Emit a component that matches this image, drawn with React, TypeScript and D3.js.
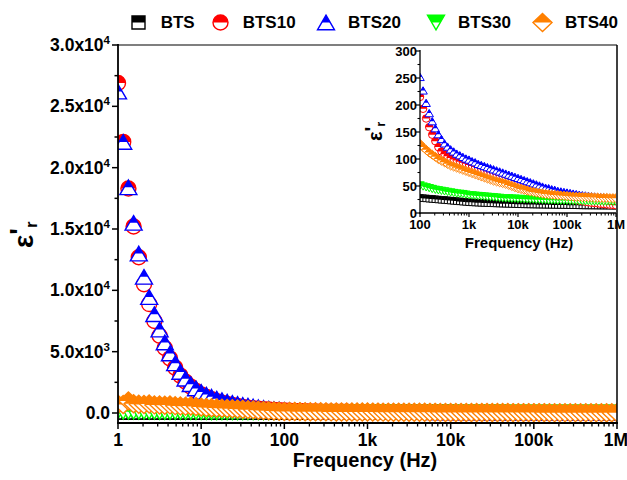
import React from "react";
import * as d3 from "d3";

// Frequency grid (Hz)
const FREQ = [
  1, 1.155, 1.334, 1.54, 1.778, 2.054, 2.371, 2.738, 3.162, 3.652, 4.217, 4.87, 5.623, 6.494, 7.499, 8.66,
  10, 11.55, 13.34, 15.4, 17.78, 20.54, 23.71, 27.38, 31.62, 36.52, 42.17, 48.7, 56.23, 64.94, 74.99, 86.6,
  100, 115.5, 133.4, 154, 177.8, 205.4, 237.1, 273.8, 316.2, 365.2, 421.7, 487, 562.3, 649.4, 749.9, 866,
  1000, 1155, 1334, 1540, 1778, 2054, 2371, 2738, 3162, 3652, 4217, 4870, 5623, 6494, 7499, 8660,
  10000, 11550, 13340, 15400, 17780, 20540, 23710, 27380, 31620, 36520, 42170, 48700, 56230, 64940, 74990, 86600,
  100000, 115500, 133400, 154000, 177800, 205400, 237100, 273800, 316200, 365200, 421700, 487000, 562300, 649400, 749900, 866000,
  1000000,
];

const BTS = [
  45, 44, 43, 42, 41, 40, 39.5, 39, 38.5, 38, 37.5, 37, 36.5, 36, 35.5, 35,
  34.5, 34, 33.5, 33, 32.5, 32, 31.5, 31, 30.5, 30, 29.8, 29.5, 29.2, 29, 28.7, 28.4,
  28, 27.5, 27, 26.5, 26, 25.5, 25, 24.5, 24, 23.5, 23, 22.5, 22, 21.5, 21, 20.5,
  20, 19.7, 19.4, 19.1, 18.8, 18.5, 18.3, 18.1, 17.9, 17.7, 17.5, 17.3, 17.1, 16.9, 16.7, 16.5,
  16.3, 16.1, 16, 15.9, 15.8, 15.7, 15.6, 15.5, 15.4, 15.3, 15.2, 15.1, 15, 14.9, 14.8, 14.7,
  14.6, 14.5, 14.4, 14.3, 14.2, 14.1, 14, 14, 13.9, 13.9, 13.8, 13.8, 13.7, 13.7, 13.6, 13.6,
  13.5,
];

const BTS10 = [
  26900, 22100, 18300, 15200, 12700, 10500, 8880, 7500, 6300, 5300, 4450, 3700, 3050, 2550, 2150, 1800,
  1520, 1300, 1120, 970, 850, 740, 650, 570, 500, 440, 390, 345, 310, 280, 255, 235,
  215, 193, 175, 159, 145, 133, 122, 114, 109, 105, 102, 99, 97, 95, 93, 91,
  89, 87, 85, 83, 81, 79, 77, 75, 73, 71, 69, 67, 65, 63, 61, 59,
  57, 55, 53, 51, 49, 47, 45, 43, 41, 39, 37, 35, 33, 31.5, 30, 28.5,
  27, 26, 25, 24, 23, 22, 21, 20, 19, 18.5, 18, 17, 16.5, 16, 15.5, 15,
  14.5,
];

const BTS20 = [
  26200, 22100, 18400, 15500, 13000, 11100, 9450, 8050, 6800, 5750, 4850, 4050, 3350, 2800, 2350, 2000,
  1720, 1500, 1320, 1170, 1040, 930, 830, 740, 660, 590, 525, 465, 410, 360, 320, 285,
  252, 227, 204, 185, 170, 157, 146, 137, 129, 123, 118, 114, 110, 107, 104, 101,
  99, 96, 94, 91, 89, 87, 85, 83, 81, 79, 77, 75, 73, 71, 69, 67,
  65, 63, 61, 59, 57, 55, 53, 51, 49, 47, 46, 44, 43, 41, 40, 39,
  38, 37, 36, 35, 34, 33, 32.5, 32, 31, 30.5, 30, 29.5, 29, 28.5, 28, 27.5,
  27,
];

const BTS30 = [
  110, 106, 102, 99, 96, 93, 90, 88, 85, 83, 81, 79, 77, 75, 73, 71,
  69, 68, 66, 65, 63, 62, 61, 60, 59, 58, 57, 56, 55, 54, 53, 52,
  51, 49, 47.5, 46, 44.5, 43, 42, 41, 40, 39, 38, 37, 36, 35.5, 35, 34,
  33, 32.5, 32, 31.5, 31, 30.5, 30, 29.5, 29, 28.5, 28, 27.5, 27, 27, 26.5, 26.5,
  26, 26, 25.5, 25.5, 25, 25, 24.5, 24.5, 24, 24, 23.5, 23.5, 23.5, 23, 23, 23,
  23, 22.5, 22.5, 22.5, 22, 22, 22, 22, 21.5, 21.5, 21.5, 21.5, 21, 21, 21, 21,
  21,
];

const BTS40 = [
  720, 700, 980, 760, 720, 700, 730, 660, 650, 630, 660, 600, 580, 560, 570, 520,
  480, 455, 430, 410, 390, 370, 345, 320, 300, 275, 255, 230, 210, 185, 165, 145,
  128, 122, 117, 112, 108, 104, 100, 97, 94, 91, 88, 86, 84, 82, 80, 78,
  76, 74, 72, 70, 68, 66, 64, 62, 60, 58.5, 57, 55.5, 54, 52, 50, 48,
  46, 44.5, 43, 41.5, 40, 39, 38, 37, 36, 35, 34.5, 34, 33.5, 33, 32.5, 32,
  31.5, 31, 30.5, 30, 30, 29.5, 29.5, 29, 29, 28.5, 28.5, 28, 28, 28, 27.5, 27.5,
  27.5,
];

const SERIES_NAMES = ["BTS", "BTS10", "BTS20", "BTS30", "BTS40"];
const SERIES_COLORS = ["#000000", "#ff0000", "#0000ff", "#00ff00", "#ff8000"];
const SERIES_SHAPES = ["square", "circle", "up", "down", "diamond"];
const SERIES_VALUES = [BTS, BTS10, BTS20, BTS30, BTS40];

const X_TICK_VALUES = [1, 10, 100, 1000, 10000, 100000, 1000000];
const X_TICK_LABELS = ["1", "10", "100", "1k", "10k", "100k", "1M"];
const Y_TICK_VALUES = [0, 5000, 10000, 15000, 20000, 25000, 30000];
const Y_TICK_MANT = ["0.0", "5.0x10", "1.0x10", "1.5x10", "2.0x10", "2.5x10", "3.0x10"];
const Y_TICK_EXP = ["", "3", "4", "4", "4", "4", "4"];
const Y_MINOR_VALUES = [2500, 7500, 12500, 17500, 22500, 27500];

const INSET_X_VALUES = [100, 1000, 10000, 100000, 1000000];
const INSET_X_LABELS = ["100", "1k", "10k", "100k", "1M"];
const INSET_Y_VALUES = [0, 50, 100, 150, 200, 250, 300];
const INSET_Y_MINOR = [25, 75, 125, 175, 225, 275];

const FONT = "'Liberation Sans', Arial, Helvetica, sans-serif";

function shapePath(shape: string, k: number): string {
  if (shape === "square") {
    const h = 6.5 * k;
    return `M${-h},${-h}H${h}V${h}H${-h}Z`;
  }
  if (shape === "up") {
    const w = 8.5 * k, h = 7.3 * k;
    return `M0,${-h}L${w},${h}L${-w},${h}Z`;
  }
  if (shape === "down") {
    const w = 8.5 * k, h = 7.3 * k;
    return `M${-w},${-h}L${w},${-h}L0,${h}Z`;
  }
  if (shape === "diamond") {
    const w = 9.5 * k, h = 9 * k;
    return `M0,${-h}L${w},0L0,${h}L${-w},0Z`;
  }
  return "";
}

function Marker({ shape, x, y, k, color, sw }: any) {
  if (shape === "circle") {
    const r = 7.5 * k;
    return (
      <g transform={`translate(${x},${y})`}>
        <circle r={r} fill="#fff" stroke={color} strokeWidth={sw} />
        <circle r={r} fill={color} clipPath="url(#tophalf)" />
      </g>
    );
  }
  const d = shapePath(shape, k);
  return (
    <g transform={`translate(${x},${y})`}>
      <path d={d} fill="#fff" stroke={color} strokeWidth={sw} strokeLinejoin="miter" />
      <path d={d} fill={color} clipPath="url(#tophalf)" />
    </g>
  );
}

function logMinor(from: number, to: number): number[] {
  const out: number[] = [];
  for (let d = from; d < to; d *= 10) {
    for (let m = 2; m <= 9; m++) out.push(d * m);
  }
  return out;
}

export default function App() {
  // main plot
  const L = 118, R = 617, T = 45, B = 423;
  const x = d3.scaleLog().domain([1, 1e6]).range([L, R]);
  const y = d3.scaleLinear().domain([-815, 30000]).range([B, T]);

  // inset
  const iL = 420, iR = 616, iT = 51, iB = 213;
  const ix = d3.scaleLog().domain([100, 1e6]).range([iL, iR]);
  const iy = d3.scaleLinear().domain([0, 300]).range([iB, iT]);

  const xMinor = logMinor(1, 1e6);
  const ixMinor = logMinor(100, 1e6);

  return (
    <svg width={627} height={480} style={{ position: "absolute", left: 0, top: 0, background: "#fff" }} fontFamily={FONT}>
      <defs>
        <clipPath id="tophalf">
          <rect x={-30} y={-30} width={60} height={30} />
        </clipPath>
        <clipPath id="mainclip">
          <rect x={L} y={T} width={R - L} height={B - T} />
        </clipPath>
        <clipPath id="insetclip">
          <rect x={iL} y={iT - 10} width={iR - iL} height={iB - iT + 10} />
        </clipPath>
      </defs>
      <rect x={0} y={0} width={627} height={480} fill="#fff" />

      {/* main data */}
      <g clipPath="url(#mainclip)">
        {SERIES_VALUES.map((vals, s) => (
          <g key={s}>
            {vals.map((v, i) => (
              <Marker key={i} shape={SERIES_SHAPES[s]} x={x(FREQ[i])} y={y(v)} k={1} color={SERIES_COLORS[s]} sw={1.4} />
            ))}
          </g>
        ))}
      </g>

      {/* main frame */}
      <line x1={L} x2={R} y1={T} y2={T} stroke="#555" strokeWidth={1.5} />
      <line x1={R} x2={R} y1={T} y2={B} stroke="#000" strokeWidth={1.5} />
      <line x1={L} x2={L} y1={T - 1} y2={B + 1} stroke="#000" strokeWidth={1.8} />
      <line x1={L - 1} x2={R + 1} y1={B} y2={B} stroke="#000" strokeWidth={1.8} />

      {/* main y ticks */}
      {Y_TICK_VALUES.map((v, i) => (
        <g key={"yt" + i}>
          <line x1={L - 6} x2={L} y1={y(v)} y2={y(v)} stroke="#000" strokeWidth={1.5} />
          <text x={110} y={y(v) + 6} textAnchor="end" fontSize={17.5} fontWeight="bold">
            {Y_TICK_MANT[i]}
            {Y_TICK_EXP[i] ? (
              <tspan fontSize={11.5} dy={-7}>{Y_TICK_EXP[i]}</tspan>
            ) : null}
          </text>
        </g>
      ))}
      {Y_MINOR_VALUES.map((v, i) => (
        <line key={"ym" + i} x1={L - 3.5} x2={L} y1={y(v)} y2={y(v)} stroke="#000" strokeWidth={1.5} />
      ))}

      {/* main x ticks */}
      {X_TICK_VALUES.map((v, i) => (
        <g key={"xt" + i}>
          <line x1={x(v)} x2={x(v)} y1={B} y2={B + 6} stroke="#000" strokeWidth={1.5} />
          <text x={i === X_TICK_VALUES.length - 1 ? x(v) - 1 : x(v)} y={446} textAnchor="middle" fontSize={17.5} fontWeight="bold">
            {X_TICK_LABELS[i]}
          </text>
        </g>
      ))}
      {xMinor.map((v, i) => (
        <line key={"xm" + i} x1={x(v)} x2={x(v)} y1={B} y2={B + 3.5} stroke="#000" strokeWidth={1.3} />
      ))}

      {/* main axis titles */}
      <text x={365} y={467} textAnchor="middle" fontSize={20} fontWeight="bold">
        Frequency (Hz)
      </text>
      <text transform="translate(33,248) rotate(-90)" fontWeight="bold">
        <tspan fontSize={28}>ε</tspan>
        <tspan fontSize={28} dy={-4}>'</tspan>
        <tspan fontSize={17} dy={8}>r</tspan>
      </text>

      {/* inset data */}
      <g clipPath="url(#insetclip)">
        {SERIES_VALUES.map((vals, s) => (
          <g key={"i" + s}>
            {vals.map((v, i) =>
              FREQ[i] >= 100 ? (
                <Marker key={i} shape={SERIES_SHAPES[s]} x={ix(FREQ[i])} y={iy(v)} k={0.5} color={SERIES_COLORS[s]} sw={1} />
              ) : null
            )}
          </g>
        ))}
      </g>

      {/* inset axes */}
      <line x1={iL} x2={iL} y1={iT - 1} y2={iB + 1} stroke="#000" strokeWidth={1.3} />
      <line x1={iL - 1} x2={iR} y1={iB} y2={iB} stroke="#000" strokeWidth={1.3} />
      {INSET_Y_VALUES.map((v, i) => (
        <g key={"iyt" + i}>
          <line x1={iL - 4} x2={iL} y1={iy(v)} y2={iy(v)} stroke="#000" strokeWidth={1.2} />
          <text x={417} y={iy(v) + 4.5} textAnchor="end" fontSize={13} fontWeight="bold">
            {v}
          </text>
        </g>
      ))}
      {INSET_Y_MINOR.map((v, i) => (
        <line key={"iym" + i} x1={iL - 2.5} x2={iL} y1={iy(v)} y2={iy(v)} stroke="#000" strokeWidth={1.1} />
      ))}
      {INSET_X_VALUES.map((v, i) => (
        <g key={"ixt" + i}>
          <line x1={ix(v)} x2={ix(v)} y1={iB} y2={iB + 4} stroke="#000" strokeWidth={1.2} />
          <text x={ix(v)} y={228.5} textAnchor="middle" fontSize={13} fontWeight="bold">
            {INSET_X_LABELS[i]}
          </text>
        </g>
      ))}
      {ixMinor.map((v, i) => (
        <line key={"ixm" + i} x1={ix(v)} x2={ix(v)} y1={iB} y2={iB + 2.5} stroke="#000" strokeWidth={1} />
      ))}
      <text x={519} y={247.5} textAnchor="middle" fontSize={15} fontWeight="bold">
        Frequency (Hz)
      </text>
      <text transform="translate(382,141) rotate(-90)" fontWeight="bold">
        <tspan fontSize={20}>ε</tspan>
        <tspan fontSize={20} dy={-3}>'</tspan>
        <tspan fontSize={13} dy={6}>r</tspan>
      </text>

      {/* legend */}
      {SERIES_NAMES.map((name, s) => {
        const mx = [138.5, 220.5, 326, 436, 542.5][s];
        const tx = [160.7, 242.7, 348, 458, 565][s];
        return (
          <g key={"lg" + s}>
            <Marker shape={SERIES_SHAPES[s]} x={mx} y={22.5} k={1} color={SERIES_COLORS[s]} sw={1.4} />
            <text x={tx} y={28} fontSize={17} fontWeight="bold">
              {name}
            </text>
          </g>
        );
      })}
    </svg>
  );
}
